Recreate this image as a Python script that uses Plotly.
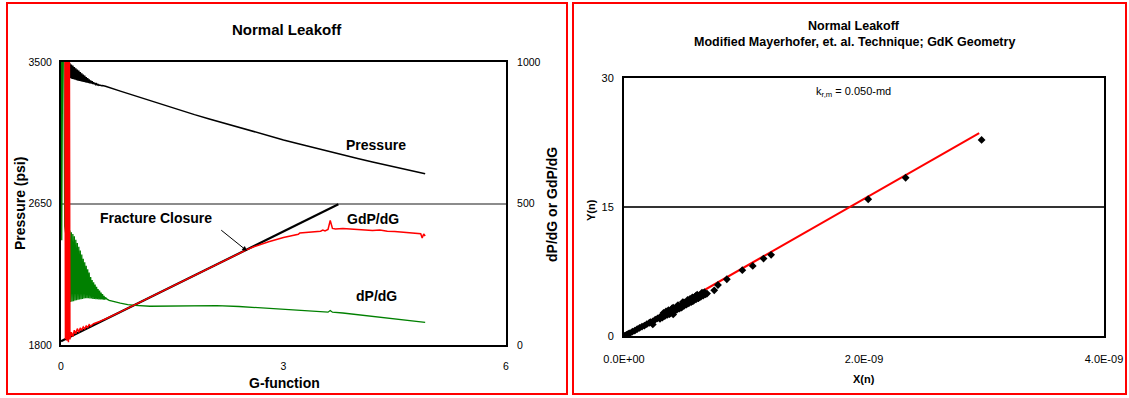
import plotly.graph_objects as go

W, H = 1129, 398
FONT = "Liberation Sans, Arial, sans-serif"

# ---------------- Left panel data ----------------
g_pressure = [0.00, 0.08,
              0.10, 0.11, 0.12, 0.13, 0.14, 0.15, 0.16, 0.17, 0.18, 0.19,
              0.20, 0.21, 0.22, 0.23, 0.24, 0.25, 0.26, 0.27, 0.28, 0.29,
              0.30, 0.31, 0.32, 0.33, 0.34, 0.35, 0.36, 0.37, 0.38, 0.39,
              0.40, 0.41, 0.42, 0.43, 0.44, 0.45, 0.46, 0.47, 0.48, 0.49,
              0.50, 0.51, 0.52, 0.53, 0.54, 0.55, 0.56, 0.57, 0.58, 0.59,
              0.60, 0.80, 1.00, 1.20, 1.40, 1.60, 1.80, 2.00, 2.20, 2.40, 2.60, 2.80,
              3.00, 3.20, 3.40, 3.60, 3.80, 4.00, 4.20, 4.40, 4.60, 4.80, 4.91]
pressure = [3650, 3560,
            3500, 3405, 3492, 3402, 3485, 3398, 3478, 3396, 3470, 3393,
            3462, 3390, 3455, 3388, 3448, 3386, 3440, 3384, 3432, 3382,
            3425, 3380, 3418, 3378, 3410, 3376, 3403, 3374, 3396, 3372,
            3390, 3370, 3384, 3368, 3379, 3366, 3374, 3364, 3369, 3362,
            3365, 3360, 3362, 3359, 3360, 3357, 3358, 3356, 3356, 3355,
            3354, 3325, 3296, 3267, 3239, 3212, 3184, 3158, 3132, 3106, 3081, 3057,
            3032, 3009, 2986, 2964, 2942, 2920, 2899, 2879, 2859, 2840, 2829]

g_dpdg = [0.00, 0.01, 0.03, 0.05, 0.07, 0.09,
          0.10, 0.11, 0.12, 0.13, 0.14, 0.15, 0.16, 0.17, 0.18, 0.19,
          0.20, 0.21, 0.22, 0.23, 0.24, 0.25, 0.26, 0.27, 0.28, 0.29,
          0.30, 0.31, 0.32, 0.33, 0.34, 0.35, 0.36, 0.37, 0.38, 0.39,
          0.40, 0.41, 0.42, 0.43, 0.44, 0.45, 0.46, 0.47, 0.48, 0.49,
          0.50, 0.51, 0.52, 0.53, 0.54, 0.55, 0.56, 0.57, 0.58, 0.59,
          0.60, 0.62, 0.65, 0.70, 0.80, 0.90, 1.00, 1.20, 1.50, 1.80,
          2.10, 2.40, 2.70, 3.00, 3.30, 3.50, 3.60, 3.63, 3.66, 3.80, 4.00, 4.20, 4.40,
          4.60, 4.80, 4.91]
dpdg = [1500, 370, 1500, 420, 380, 190,
        410, 150, 405, 152, 398, 154, 392, 155, 384, 157,
        372, 158, 360, 160, 347, 161, 334, 162, 320, 163,
        305, 164, 292, 165, 280, 165, 268, 165, 256, 164,
        240, 164, 230, 163, 222, 163, 214, 162, 206, 162,
        198, 161, 192, 161, 185, 161, 180, 160, 174, 160,
        168, 162, 158, 154, 148, 143, 140, 137, 137, 138,
        139, 136, 131, 125, 121, 118, 116, 122, 116, 113, 107, 101, 95,
        89, 84, 80]

g_gdpdg = [0.05, 0.06, 0.07, 0.08, 0.09, 0.10, 0.11, 0.12, 0.14, 0.16, 0.18, 0.20, 0.22,
           0.24, 0.26, 0.28, 0.30, 0.32, 0.34, 0.36, 0.38, 0.40, 0.44, 0.48, 0.52, 0.56,
           0.60, 0.80, 1.00, 1.20, 1.40, 1.60, 1.80, 2.00, 2.20, 2.40, 2.50, 2.60, 2.80,
           3.00, 3.20, 3.22, 3.30, 3.40, 3.50, 3.53, 3.56, 3.60, 3.63, 3.66, 3.70, 3.80,
           3.90, 4.00, 4.12, 4.20, 4.30, 4.40, 4.50, 4.60, 4.70, 4.80, 4.85, 4.87, 4.89, 4.91]
gdpdg = [1500, 20, 1500, 15, 1500, 10, 1500, 20, 45, 30, 52, 40, 58,
         45, 60, 52, 64, 57, 67, 62, 72, 67, 75, 78, 83, 88,
         92, 117, 143, 169, 195, 220, 246, 272, 298, 323, 336, 347, 365,
         380, 391, 396, 397, 400, 402, 406, 403, 408, 440, 412, 410, 412,
         410, 409, 408, 405, 406, 402, 401, 399, 397, 396, 393, 378, 392, 385]

tangent_g = [0.0, 3.74]
tangent_v = [13, 497]

# ---------------- Right panel data ----------------
x_n = [0.00e-9, 0.01e-9, 0.02e-9, 0.03e-9, 0.04e-9, 0.05e-9, 0.07e-9, 0.09e-9, 0.11e-9,
       0.13e-9, 0.15e-9, 0.17e-9, 0.19e-9, 0.21e-9, 0.22e-9, 0.24e-9, 0.26e-9, 0.28e-9,
       0.30e-9, 0.31e-9, 0.32e-9, 0.33e-9, 0.34e-9, 0.35e-9, 0.36e-9, 0.37e-9, 0.38e-9,
       0.39e-9, 0.40e-9, 0.41e-9, 0.42e-9, 0.43e-9, 0.44e-9, 0.45e-9, 0.46e-9, 0.47e-9,
       0.48e-9, 0.49e-9, 0.50e-9, 0.51e-9, 0.52e-9, 0.53e-9, 0.54e-9, 0.55e-9, 0.56e-9,
       0.57e-9, 0.58e-9, 0.59e-9, 0.60e-9, 0.61e-9, 0.62e-9, 0.63e-9, 0.64e-9, 0.65e-9,
       0.35e-9, 0.40e-9, 0.45e-9, 0.50e-9, 0.55e-9, 0.60e-9, 0.38e-9, 0.48e-9, 0.41e-9,
       0.37e-9, 0.42e-9, 0.47e-9, 0.52e-9, 0.57e-9, 0.62e-9, 0.44e-9, 0.54e-9, 0.59e-9,
       0.30e-9, 0.32e-9, 0.34e-9, 0.36e-9, 0.38e-9, 0.40e-9, 0.42e-9, 0.44e-9, 0.46e-9,
       0.48e-9, 0.50e-9, 0.52e-9, 0.54e-9, 0.56e-9, 0.58e-9, 0.60e-9, 0.62e-9, 0.64e-9,
       0.66e-9, 0.68e-9, 0.33e-9, 0.37e-9, 0.41e-9, 0.45e-9, 0.49e-9, 0.53e-9, 0.57e-9,
       0.61e-9, 0.65e-9, 0.67e-9,
       0.24e-9, 0.692e-9, 0.752e-9, 0.783e-9, 0.857e-9, 0.986e-9, 1.073e-9, 1.163e-9,
       1.226e-9, 2.035e-9, 2.347e-9, 2.98e-9]
y_n = [0.00, 0.05, 0.12, 0.20, 0.28, 0.33, 0.50, 0.62, 0.80,
       0.95, 1.10, 1.20, 1.38, 1.52, 1.62, 1.70, 1.90, 2.05,
       2.20, 2.30, 2.38, 2.45, 2.50, 2.60, 2.65, 2.75, 2.80,
       2.90, 2.95, 3.05, 3.10, 3.15, 3.25, 3.30, 3.40, 3.45,
       3.55, 3.60, 3.70, 3.75, 3.85, 3.90, 4.00, 4.05, 4.15,
       4.20, 4.30, 4.35, 4.45, 4.50, 4.60, 4.70, 4.75, 4.85,
       2.85, 3.20, 3.50, 3.90, 4.30, 4.70, 2.55, 3.30, 2.51,
       2.60, 2.95, 3.30, 3.70, 4.05, 4.40, 3.40, 4.15, 4.55,
       2.00, 2.15, 2.30, 2.45, 2.60, 2.75, 2.90, 3.05, 3.20,
       3.35, 3.50, 3.65, 3.80, 3.95, 4.10, 4.25, 4.40, 4.55,
       4.70, 4.85, 2.70, 3.00, 3.30, 3.60, 3.95, 4.20, 4.50,
       4.80, 5.05, 5.10,
       1.35, 4.93, 5.31, 5.93, 6.60, 7.65, 8.15, 9.00,
       9.44, 15.9, 18.4, 22.8]

fit_x = [0.0, 2.96e-9]
fit_y = [0.0, 23.6]

x_ticks = [0, 2e-9, 4e-9]
x_tick_text = ["0.0E+00", "2.0E-09", "4.0E-09"]


def px(x):
    return x / W


def py(y):
    return 1 - y / H


fig = go.Figure()

fig.add_trace(go.Scatter(x=g_pressure, y=pressure, mode="lines", xaxis="x", yaxis="y",
                         line=dict(color="black", width=1.5), showlegend=False))
fig.add_trace(go.Scatter(x=tangent_g, y=tangent_v, mode="lines", xaxis="x", yaxis="y2",
                         line=dict(color="black", width=2.2), showlegend=False))
fig.add_trace(go.Scatter(x=g_dpdg, y=dpdg, mode="lines", xaxis="x", yaxis="y2",
                         line=dict(color="#008000", width=1.3), showlegend=False))
fig.add_trace(go.Scatter(x=g_gdpdg, y=gdpdg, mode="lines", xaxis="x", yaxis="y2",
                         line=dict(color="#ff0000", width=1.5), showlegend=False))

fig.add_trace(go.Scatter(x=fit_x, y=fit_y, mode="lines", xaxis="x3", yaxis="y3",
                         line=dict(color="#ff0000", width=2), showlegend=False))
fig.add_trace(go.Scatter(x=x_n, y=y_n, mode="markers", xaxis="x3", yaxis="y3",
                         marker=dict(color="black", size=6, symbol="diamond"), showlegend=False))

tickfont = dict(family=FONT, size=10.5, color="black")
tickfont_r = dict(family=FONT, size=11, color="black")
axis_common = dict(showline=True, linecolor="black", linewidth=2, ticks="", zeroline=False,
                   fixedrange=True, automargin=False)

fig.update_layout(
    width=W, height=H,
    margin=dict(l=0, r=0, t=0, b=0, autoexpand=False),
    paper_bgcolor="white", plot_bgcolor="white",
    showlegend=False,
    xaxis=dict(domain=[px(61), px(506)], range=[0, 6], tickvals=[0, 3, 6], anchor="y",
               mirror=True, showgrid=False, ticklabelstandoff=10, tickfont=tickfont,
               **axis_common),
    yaxis=dict(domain=[py(345), py(62)], range=[1800, 3500], tickvals=[1800, 2650, 3500],
               anchor="x", mirror=True, showgrid=True, gridcolor="#8c8c8c", gridwidth=1.5,
               ticklabelstandoff=5, tickfont=tickfont, **axis_common),
    yaxis2=dict(overlaying="y", side="right", range=[0, 1000], tickvals=[0, 500, 1000],
                anchor="x", showgrid=False, ticklabelstandoff=7, tickfont=tickfont,
                **axis_common),
    xaxis3=dict(domain=[px(624), px(1104)], range=[0, 4e-9], tickvals=x_ticks,
                ticktext=x_tick_text, anchor="y3", mirror=True, showgrid=False,
                ticklabelstandoff=12, tickfont=tickfont_r, **axis_common),
    yaxis3=dict(domain=[py(336), py(78)], range=[0, 30], tickvals=[0, 15, 30], anchor="x3",
                mirror=True, showgrid=True, gridcolor="#333333", gridwidth=1.5,
                ticklabelstandoff=6, tickfont=tickfont_r, **axis_common),
)

# red panel borders
for x0, x1 in [(7, 567), (573, 1126)]:
    fig.add_shape(type="rect", xref="paper", yref="paper",
                  x0=px(x0), x1=px(x1), y0=py(394), y1=py(3),
                  line=dict(color="#ff0000", width=2), fillcolor="rgba(0,0,0,0)")


def label(text, x, y, size, bold=True, angle=0):
    fig.add_annotation(text=f"<b>{text}</b>" if bold else text, xref="paper", yref="paper",
                       x=px(x), y=py(y), xanchor="center", yanchor="middle", showarrow=False,
                       textangle=angle, font=dict(family=FONT, size=size, color="black"))


# Left panel texts
label("Normal Leakoff", 287, 29, 15)
label("G-function", 284, 383, 14)
label("Pressure (psi)", 20, 204, 14, angle=-90)
label("dP/dG or GdP/dG", 552, 205, 14, angle=-90)

for text, g, v in [("Pressure", 4.25, 705), ("GdP/dG", 4.20, 445), ("dP/dG", 4.26, 173)]:
    fig.add_annotation(text=f"<b>{text}</b>", x=g, y=v, xref="x", yref="y2", showarrow=False,
                       font=dict(family=FONT, size=14, color="black"))

fig.add_annotation(text="<b>Fracture Closure</b>", x=1.275, y=449, xref="x", yref="y2",
                   showarrow=False, font=dict(family=FONT, size=14, color="black"))
fig.add_annotation(x=2.51, y=332, ax=2.14, ay=410, xref="x", yref="y2", axref="x", ayref="y2",
                   text="", showarrow=True, arrowhead=2, arrowsize=1, arrowwidth=1,
                   arrowcolor="black")

# Right panel texts
label("Normal Leakoff", 854, 26, 12.5)
label("Modified Mayerhofer, et. al. Technique; GdK Geometry", 854, 42, 12.5)
label("X(n)", 864, 379, 11)
label("Y(n)", 591, 210, 11, angle=-90)
label("k<sub>r,m</sub> = 0.050-md", 853, 92, 11, bold=False)

fig.write_html("out.html")
